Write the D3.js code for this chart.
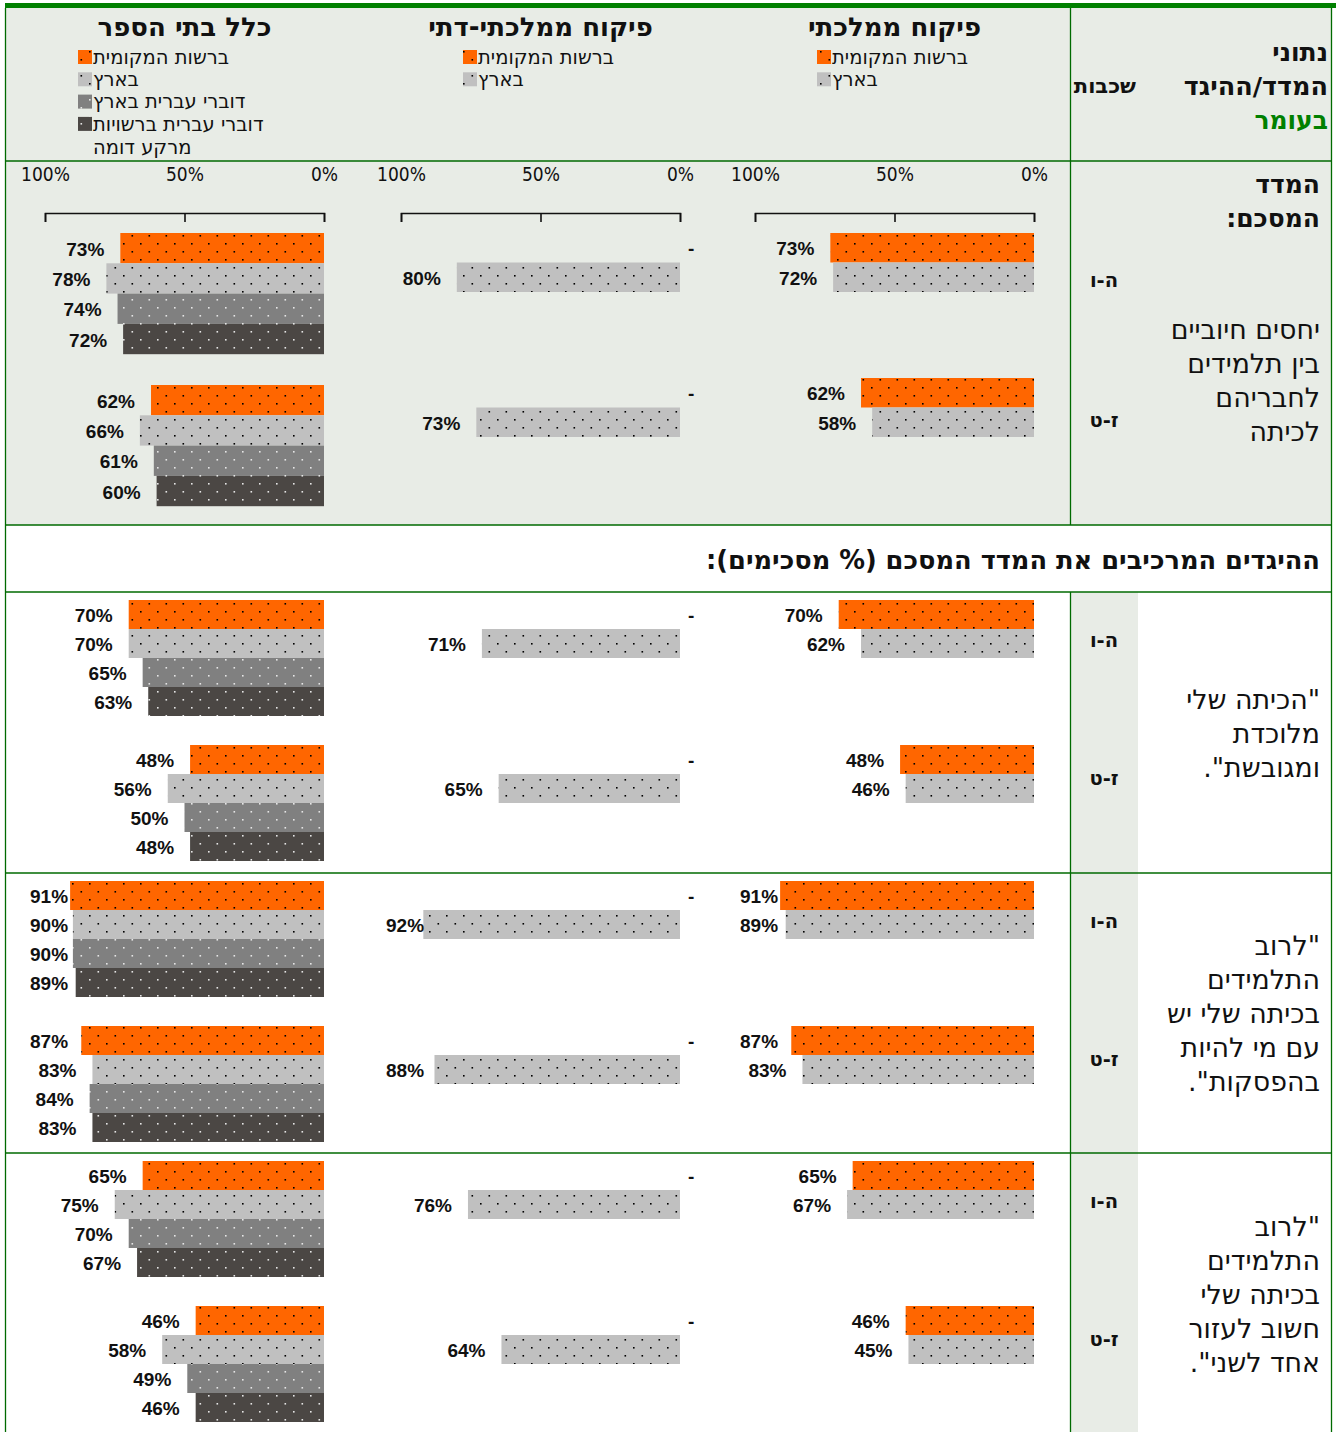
<!DOCTYPE html>
<html>
<head>
<meta charset="UTF-8">
<title>יחסים חיוביים בין תלמידים</title>
<script src="https://d3js.org/d3.v7.min.js"></script>
<style>
body { margin: 0; background: #fff; }
text { font-family: "DejaVu Sans", sans-serif; fill: #111; }
.val { font-family: "Liberation Sans", Arial, sans-serif; font-weight: bold; font-size: 19px; }
.tick-lbl { font-family: "DejaVu Sans Condensed", "DejaVu Sans", sans-serif; font-stretch: condensed; font-size: 19px; }
</style>
</head>
<body>
<svg width="1336" height="1432"></svg>
<script>
// data
var grades = ["ה-ו", "ז-ט"]
var seriesNames = ["ברשות המקומית", "בארץ", "דוברי עברית בארץ", "דוברי עברית ברשויות מרקע דומה"]
var panelTitles = ["כלל בתי הספר", "פיקוח ממלכתי-דתי", "פיקוח ממלכתי"]
var tickValues = [0, 0.5, 1]

var rowTexts = [
  ["יחסים חיוביים", "בין תלמידים", "לחבריהם", "לכיתה"],
  ["\"הכיתה שלי", "מלוכדת", "ומגובשת\"."],
  ["\"לרוב", "התלמידים", "בכיתה שלי יש", "עם מי להיות", "בהפסקות\"."],
  ["\"לרוב", "התלמידים", "בכיתה שלי", "חשוב לעזור", "אחד לשני\"."]
]

// values per row (summary index first), [ה-ו, ז-ט]
var allLocal     = [[73, 62], [70, 48], [91, 87], [65, 46]]
var allCountry   = [[78, 66], [70, 56], [90, 83], [75, 58]]
var allHebrew    = [[74, 61], [65, 50], [90, 84], [70, 49]]
var allSimilar   = [[72, 60], [63, 48], [89, 83], [67, 46]]
var relLocal     = [[null, null], [null, null], [null, null], [null, null]]
var relCountry   = [[80, 73], [71, 65], [92, 88], [76, 64]]
var stateLocal   = [[73, 62], [70, 48], [91, 87], [65, 46]]
var stateCountry = [[72, 58], [62, 46], [89, 83], [67, 45]]

var panelData = [
  [allLocal, allCountry, allHebrew, allSimilar],
  [relLocal, relCountry],
  [stateLocal, stateCountry]
]

var colors = ["#ff6600", "#c0c0c0", "#808080", "#4b4744"]
var dotColors = ["#000", "#000", "#e6e6e6", "#e6e6e6"]
var green = "#006a00", lightBg = "#e8ece6"

var svg = d3.select("svg")
var defs = svg.append("defs")

colors.forEach(function(c, i) {
  var p = defs.append("pattern")
    .attr("id", "pat" + i)
    .attr("patternUnits", "userSpaceOnUse")
    .attr("width", 17).attr("height", 16)
  p.append("rect").attr("width", 17).attr("height", 16).attr("fill", c)
  p.append("rect").attr("x", 4).attr("y", 3).attr("width", 1.6).attr("height", 1.6).attr("fill", dotColors[i])
  p.append("rect").attr("x", 12.5).attr("y", 11).attr("width", 1.6).attr("height", 1.6).attr("fill", dotColors[i])
})

function heText(g, x, y, str, anchor, size, bold, color) {
  var a = anchor == "right" ? "start" : anchor == "left" ? "end" : "middle"
  return g.append("text")
    .attr("x", x).attr("y", y)
    .attr("direction", "rtl")
    .attr("text-anchor", a)
    .attr("dy", "0.35em")
    .style("font-size", size + "px")
    .style("font-weight", bold ? "bold" : "normal")
    .style("fill", color || "#111")
    .text(str)
}

// table background and grid
var rowTops = [161, 592, 873, 1153]
var rowBottoms = [525, 873, 1153, 1432]

svg.append("rect").attr("x", 5).attr("y", 8).attr("width", 1327).attr("height", 517).attr("fill", lightBg)
rowTops.slice(1).forEach(function(t, i) {
  svg.append("rect").attr("x", 1070).attr("y", t).attr("width", 68).attr("height", rowBottoms[i + 1] - t).attr("fill", lightBg)
})

var grid = svg.append("g").attr("stroke", green).attr("stroke-width", 1.3)
;[161, 525, 592, 873, 1153].forEach(function(y) {
  grid.append("line").attr("x1", 5).attr("x2", 1332).attr("y1", y).attr("y2", y)
})
grid.append("line").attr("x1", 5.5).attr("x2", 5.5).attr("y1", 8).attr("y2", 1432)
grid.append("line").attr("x1", 1331.5).attr("x2", 1331.5).attr("y1", 8).attr("y2", 1432)
grid.append("line").attr("x1", 1070.5).attr("x2", 1070.5).attr("y1", 8).attr("y2", 525)
grid.append("line").attr("x1", 1070.5).attr("x2", 1070.5).attr("y1", 592).attr("y2", 1432)
svg.append("rect").attr("x", 5).attr("y", 3).attr("width", 1331).attr("height", 5).attr("fill", "#008000")

// header texts
var hd = svg.append("g")
heText(hd, 1328, 52, "נתוני", "right", 25, true)
heText(hd, 1328, 86, "המדד/ההיגד", "right", 25.5, true)
heText(hd, 1328, 120, "בעומר", "right", 25, true, "#008000")
heText(hd, 1136, 86, "שכבות", "right", 21, true)

heText(hd, 1320, 184, "המדד", "right", 25, true)
heText(hd, 1320, 218, "המסכם:", "right", 25, true)
heText(hd, 1320, 560, "ההיגדים המרכיבים את המדד המסכם (% מסכימים):", "right", 25.7, true)

var textStarts = [330, 700, 946, 1227]
rowTexts.forEach(function(lines, r) {
  lines.forEach(function(l, j) {
    heText(hd, 1320, textStarts[r] + j * 34, l, "right", 26.8, false)
  })
  var gl = r == 0 ? [280, 420] : [rowTops[r] + 48, rowTops[r] + 186]
  grades.forEach(function(gr, k) {
    heText(hd, 1104, gl[k], gr, "center", 19.5, true)
  })
})

// panels
var zeroX = [324, 680, 1034]
var legendX = [78, 463, 817]

function wrap(g, str, size, maxW) {
  var probe = g.append("text").style("font-size", size + "px")
  var words = str.split(" "), lines = [], cur = ""
  words.forEach(function(w) {
    var t = cur ? cur + " " + w : w
    probe.text(t)
    if (cur && probe.node().getComputedTextLength() > maxW) { lines.push(cur); cur = w } else cur = t
  })
  lines.push(cur)
  probe.remove()
  return lines
}

panelTitles.forEach(function(title, p) {
  var g = svg.append("g")
  var x = d3.scaleLinear().domain([0, 1]).range([zeroX[p], zeroX[p] - 279])
  var nSeries = panelData[p].length
  var series = seriesNames.slice(0, nSeries)

  heText(g, (x(0) + x(1)) / 2, 27, title, "center", 26, true)

  // legend
  var ly = 57
  series.forEach(function(s, i) {
    g.append("rect").attr("x", legendX[p]).attr("y", ly - 7).attr("width", 14).attr("height", 14)
      .attr("fill", "url(#pat" + i + ")")
    wrap(g, s, 19.5, 185).forEach(function(line, j) {
      heText(g, legendX[p] + 15, ly + j * 23, line, "left", 19.5, false)
    })
    ly += 22.3
  })

  // axis
  g.append("g")
    .attr("transform", "translate(0,213)")
    .call(d3.axisBottom(x).tickValues(tickValues).tickSize(9).tickFormat(""))
    .call(function(a) { a.selectAll("path,line").attr("stroke", "#111").attr("stroke-width", 1.6) })
  g.append("g")
    .attr("transform", "translate(0,181)")
    .call(d3.axisTop(x).tickValues(tickValues).tickSize(0).tickPadding(0).tickFormat(d3.format(".0%")))
    .call(function(a) {
      a.select(".domain").remove()
      a.selectAll("text").attr("class", "tick-lbl").attr("fill", "#111").attr("dy", 0)
        .attr("font-family", null).attr("font-size", null)
    })

  rowTops.forEach(function(top, r) {
    var start, step, barH
    if (r == 0) {
      start = 233
      step = p == 0 ? 152 : 145
      barH = p == 0 ? 30.3 : 29.5
    } else {
      start = top + 8; step = 145; barH = 29
    }
    var yG = d3.scaleBand().domain(grades).range([start, start + 2 * step])
    var yS = d3.scaleBand().domain(series).range([0, nSeries * barH])

    series.forEach(function(s, i) {
      var vals = panelData[p][i][r]
      grades.forEach(function(gr, k) {
        var v = vals[k]
        var y0 = yG(gr) + yS(s)
        var cy = y0 + barH / 2 + 1
        if (v == null) {
          g.append("text").attr("class", "val").attr("x", x(0) + 8).attr("y", cy).attr("dy", "0.35em").text("-")
          return
        }
        g.append("rect")
          .attr("x", x(v / 100)).attr("y", y0)
          .attr("width", x(0) - x(v / 100)).attr("height", barH)
          .attr("fill", "url(#pat" + i + ")")
        var t = g.append("text").attr("class", "val")
          .attr("x", x(v / 100) - 16).attr("y", cy).attr("dy", "0.35em")
          .attr("text-anchor", "end").text(v + "%")
        var w = t.node().getComputedTextLength()
        if (x(v / 100) - 16 - w < x(0) - 294) {
          t.attr("x", x(0) - 294).attr("text-anchor", "start")
        }
      })
    })
  })
})
</script>
</body>
</html>
